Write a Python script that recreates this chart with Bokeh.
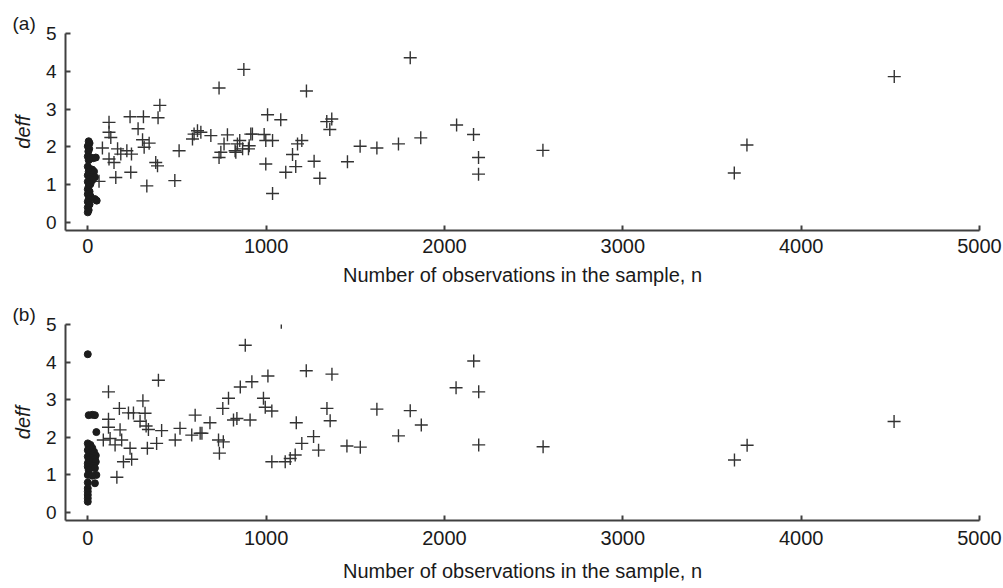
from bokeh.plotting import figure
from bokeh.layouts import column
from bokeh.models import Range1d, FixedTicker
from bokeh.embed import file_html
from bokeh.resources import INLINE

# ---------------- data: panel (a) ----------------
a_cross_n = [404, 237, 312, 394, 119, 282, 119, 129, 307, 344, 82, 167, 316, 185, 245, 219,
             119, 147, 381, 391, 241, 157, 63, 331, 488, 512, 596, 615, 587, 634, 690, 783,
             764, 746, 736, 839, 830, 868, 914, 905, 736, 875, 1808, 1226, 1008, 1082, 1340,
             1368, 1357, 826, 852, 901, 923, 989, 998, 1036, 998, 1036, 1110, 1166, 1148,
             1176, 1200, 1269, 1301, 1456, 1527, 1621, 1742, 1867, 2068, 2163, 2191, 2191,
             2552, 3696, 3625, 4522]
a_cross_deff = [3.10, 2.80, 2.80, 2.77, 2.65, 2.48, 2.39, 2.25, 2.19, 2.10, 1.97, 1.95, 1.99,
                1.81, 1.81, 1.90, 1.68, 1.59, 1.59, 1.50, 1.33, 1.19, 1.09, 0.97, 1.11, 1.90,
                2.34, 2.43, 2.21, 2.39, 2.30, 2.32, 2.08, 1.86, 1.72, 2.08, 1.86, 1.95, 2.34,
                2.03, 3.56, 4.05, 4.36, 3.48, 2.85, 2.72, 2.67, 2.74, 2.46, 1.90, 2.17, 1.95,
                2.34, 2.33, 2.17, 2.17, 1.55, 0.77, 1.33, 1.48, 1.80, 2.08, 2.17, 1.62, 1.17,
                1.61, 2.02, 1.97, 2.08, 2.24, 2.58, 2.33, 1.72, 1.28, 1.91, 2.05, 1.31, 3.86]
a_dot_n = [5, 10, 0, 8, 3, 0, 15, 30, 45, 5, 0, 10, 25, 35, 5, 15, 30, 0, 20, 40, 10, 25, 0,
           15, 5, 0, 10, 0, 15, 5, 40, 50, 0, 10, 0, 5, 0]
a_dot_deff = [2.15, 2.10, 2.02, 1.95, 1.88, 1.75, 1.72, 1.70, 1.72, 1.65, 1.48, 1.42, 1.40,
              1.35, 1.35, 1.30, 1.28, 1.25, 1.22, 1.20, 1.15, 1.12, 1.08, 1.02, 0.95, 0.88,
              0.82, 0.75, 0.70, 0.62, 0.62, 0.58, 0.55, 0.48, 0.40, 0.33, 0.27]

# ---------------- data: panel (b) ----------------
b_cross_n = [883, 396, 116, 855, 920, 309, 789, 757, 177, 228, 256, 321, 116, 293, 602, 327,
             116, 685, 340, 181, 414, 517, 817, 836, 910, 583, 630, 490, 87, 125, 153, 190,
             237, 386, 334, 733, 760, 738, 200, 246, 163, 1085, 1010, 1225, 1369, 985, 995,
             1032, 640, 1169, 1341, 1359, 1266, 1200, 1294, 1163, 1135, 1107, 1032, 1453,
             1528, 1621, 1742, 1808, 1870, 2164, 2065, 2192, 2192, 2553, 3697, 3626, 4521]
b_cross_deff = [4.45, 3.52, 3.21, 3.34, 3.48, 2.97, 3.04, 2.77, 2.77, 2.65, 2.65, 2.64, 2.48,
                2.43, 2.59, 2.30, 2.27, 2.39, 2.21, 2.20, 2.18, 2.24, 2.46, 2.50, 2.46, 2.06,
                2.11, 1.93, 1.93, 1.97, 1.80, 1.93, 1.71, 1.84, 1.71, 1.93, 1.88, 1.58, 1.35,
                1.42, 0.94, 5.06, 3.63, 3.77, 3.68, 3.04, 2.80, 2.70, 2.11, 2.39, 2.77, 2.44,
                2.02, 1.84, 1.66, 1.53, 1.44, 1.35, 1.35, 1.77, 1.74, 2.75, 2.04, 2.71, 2.33,
                4.03, 3.32, 3.21, 1.80, 1.75, 1.79, 1.40, 2.42]
b_dot_n = [0, 5, 25, 40, 48, 0, 15, 5, 25, 35, 0, 10, 30, 45, 0, 20, 40, 5, 25, 45, 0, 15,
           35, 0, 20, 40, 5, 0, 48, 25, 0, 40, 0, 0, 0, 0, 0]
b_dot_deff = [4.21, 2.59, 2.60, 2.59, 2.14, 1.84, 1.80, 1.75, 1.72, 1.62, 1.66, 1.58, 1.55,
              1.52, 1.49, 1.45, 1.42, 1.40, 1.36, 1.35, 1.31, 1.28, 1.25, 1.22, 1.20, 1.18,
              1.13, 1.00, 1.00, 0.98, 0.80, 0.78, 0.65, 0.56, 0.47, 0.38, 0.29]

x_ticks = [0, 1000, 2000, 3000, 4000, 5000]
y_ticks = [0, 1, 2, 3, 4, 5]
x_title = "Number of observations in the sample, n"
y_title = "deff"
panel_tags = ["(a)", "(b)"]

FONT = "Liberation Sans"
AXC = "#404040"
TXT = "#1a1a1a"


def make_panel(cn, cd, dn, dd, tag, height, border_top, border_bottom,
               tick_standoff, title_standoff):
    p = figure(width=1003, height=height, output_backend="svg", toolbar_location=None,
               x_range=Range1d(-125, 5000), y_range=Range1d(-0.21, 5),
               min_border_left=65, min_border_right=24, min_border_top=border_top,
               min_border_bottom=border_bottom)
    p.outline_line_color = None
    p.grid.visible = False
    p.background_fill_color = "white"
    p.border_fill_color = "white"

    for ax in (p.xaxis[0], p.yaxis[0]):
        ax.axis_line_color = AXC
        ax.axis_line_width = 2
        ax.major_tick_line_color = AXC
        ax.major_tick_line_width = 2
        ax.major_tick_in = 5
        ax.major_tick_out = 0
        ax.minor_tick_line_color = None
        ax.major_label_text_font = FONT
        ax.major_label_text_color = TXT
        ax.axis_label_text_font = FONT
        ax.axis_label_text_color = TXT
        ax.axis_label_text_font_size = "20px"

    p.xaxis.ticker = FixedTicker(ticks=x_ticks)
    p.yaxis.ticker = FixedTicker(ticks=y_ticks)
    p.xaxis.major_label_text_font_size = "20px"
    p.yaxis.major_label_text_font_size = "19px"
    p.xaxis.major_label_standoff = tick_standoff
    p.yaxis.major_label_standoff = 9
    p.xaxis.axis_label = x_title
    p.xaxis.axis_label_text_font_style = "normal"
    p.xaxis.axis_label_standoff = title_standoff
    p.yaxis.axis_label = y_title
    p.yaxis.axis_label_text_font_style = "italic"
    p.yaxis.axis_label_standoff = 9

    p.scatter(cn, cd, marker="cross", size=13, line_width=1.4, line_color="#333333")
    p.scatter(dn, dd, marker="circle", size=7, fill_color="#1c1c1c", line_color="#1c1c1c")

    # panel tag drawn as the figure title, shifted to the far left
    p.title.text = tag
    p.title.align = "left"
    p.title.offset = -53
    p.title.standoff = 0
    p.title.text_font = FONT
    p.title.text_font_size = "19px"
    p.title.text_font_style = "normal"
    p.title.text_color = TXT
    return p


pa = make_panel(a_cross_n, a_cross_deff, a_dot_n, a_dot_deff, panel_tags[0],
                295, 33, 65, 8, 8)
pb = make_panel(b_cross_n, b_cross_deff, b_dot_n, b_dot_deff, panel_tags[1],
                293, 29, 68, 10, 12)

layout = column(pa, pb, spacing=0)
open("out.html", "w").write(file_html(layout, INLINE))
